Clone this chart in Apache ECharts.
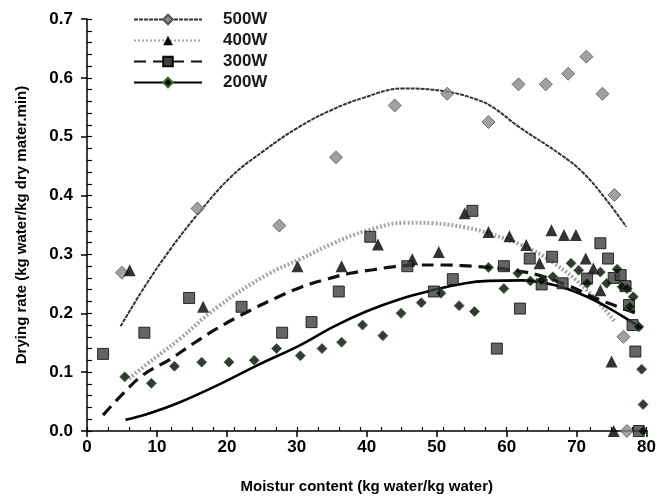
<!DOCTYPE html>
<html><head><meta charset="utf-8">
<script src="https://cdn.jsdelivr.net/npm/echarts@6/dist/echarts.min.js"></script>
<style>html,body{margin:0;padding:0;background:#fff}#c{width:659px;height:499px}</style>
</head><body><div id="c"></div>
<script>
// ---- data ----
const seriesNames = ['500W', '400W', '300W', '200W'];
const xTickValues = [0, 10, 20, 30, 40, 50, 60, 70, 80];
const yTickLabels = ['0.0', '0.1', '0.2', '0.3', '0.4', '0.5', '0.6', '0.7'];

// measured points
const pts500 = [[5.0,0.269],[15.8,0.378],[27.5,0.349],[35.6,0.465],[44.0,0.553],[51.5,0.573],[57.4,0.525],[61.7,0.589],[65.6,0.589],[68.8,0.607],[71.4,0.636],[73.7,0.573],[75.4,0.401],[76.7,0.160],[77.2,0.0]];
const pts400 = [[6.1,0.273],[16.6,0.211],[30.1,0.280],[36.4,0.280],[41.6,0.317],[46.5,0.292],[50.3,0.304],[54.0,0.370],[57.4,0.338],[60.4,0.331],[62.8,0.316],[64.7,0.285],[66.4,0.341],[68.2,0.333],[69.9,0.333],[71.3,0.293],[72.4,0.276],[73.4,0.239],[75.0,0.118],[75.3,0.0]];
const pts300 = [[2.3,0.131],[8.2,0.167],[14.6,0.226],[22.1,0.211],[27.9,0.167],[32.1,0.185],[36.0,0.237],[40.5,0.330],[45.8,0.280],[49.6,0.237],[52.3,0.258],[55.1,0.374],[58.6,0.140],[59.6,0.280],[61.9,0.208],[63.3,0.293],[65.0,0.249],[66.5,0.296],[68.0,0.251],[71.5,0.259],[73.4,0.319],[74.5,0.293],[75.3,0.260],[76.3,0.265],[77.0,0.246],[77.5,0.214],[78.0,0.180],[78.4,0.135],[78.9,0.0]];
const pts200 = [[5.4,0.092],[9.2,0.081],[12.5,0.110],[16.4,0.117],[20.3,0.117],[23.9,0.120],[27.1,0.140],[30.5,0.128],[33.6,0.140],[36.4,0.151],[39.4,0.180],[42.3,0.162],[44.9,0.200],[47.8,0.218],[50.6,0.234],[53.2,0.213],[55.4,0.203],[57.4,0.278],[59.6,0.242],[61.6,0.268],[63.4,0.255],[65.0,0.256],[66.6,0.262],[69.2,0.285],[70.3,0.273],[71.5,0.251],[73.4,0.270],[74.3,0.251],[75.8,0.275],[76.5,0.245],[77.2,0.242],[77.6,0.211],[78.1,0.228],[78.9,0.177],[79.3,0.105],[79.5,0.045],[79.5,0.0]];

// fitted curves
const fit500 = [[4.8,0.178],[8.4,0.248],[12.0,0.310],[15.8,0.368],[20.6,0.432],[25.4,0.477],[30.1,0.515],[34.7,0.544],[39.5,0.566],[45.2,0.582],[51.3,0.577],[56.0,0.562],[58.3,0.548],[61.6,0.518],[67.8,0.469],[71.0,0.438],[74.3,0.392],[77.1,0.347]];
const fit400 = [[6.0,0.089],[8.4,0.112],[13.1,0.155],[18.7,0.211],[25.8,0.266],[30.5,0.292],[35.2,0.319],[39.9,0.340],[45.6,0.354],[49.4,0.353],[54.1,0.346],[57.4,0.336],[62.1,0.316],[66.8,0.285],[71.5,0.239],[75.4,0.187]];
const fit300 = [[2.3,0.027],[5.5,0.068],[8.1,0.096],[11.9,0.122],[15.0,0.147],[18.0,0.170],[21.1,0.191],[24.2,0.210],[27.0,0.226],[30.5,0.244],[34.3,0.258],[37.6,0.268],[40.9,0.274],[43.7,0.279],[47.5,0.282],[51.3,0.282],[53.6,0.281],[57.4,0.278],[59.8,0.275],[64.5,0.265],[69.2,0.245],[72.5,0.227],[74.8,0.216],[78.6,0.200]];
const fit200 = [[5.5,0.019],[8.4,0.028],[13.1,0.048],[18.7,0.078],[24.4,0.112],[30.5,0.146],[35.2,0.177],[39.9,0.203],[44.7,0.224],[49.4,0.239],[54.1,0.251],[57.4,0.255],[62.1,0.256],[66.8,0.248],[71.5,0.228],[76.3,0.197],[79.3,0.174]];

const FONT = '"Liberation Sans", Arial, sans-serif';

const marker = {
  '500W': {symbol: 'diamond', size: 13, itemStyle: {color: '#8a8a8a', borderColor: '#555555', borderWidth: 1}},
  '400W': {symbol: 'triangle', size: 12, itemStyle: {color: '#000000'}},
  '300W': {symbol: 'rect', size: 11, itemStyle: {color: '#3e3e3e', borderColor: '#0a0a0a', borderWidth: 1}},
  '200W': {symbol: 'diamond', size: 10, itemStyle: {color: '#050505', borderColor: '#2f6f2f', borderWidth: 1}}
};
const lineStyles = {
  '500W': {color: '#333333', width: 2, type: [4, 1]},
  '400W': {color: '#a5a5a5', width: 4, type: [2, 2]},
  '300W': {color: '#111111', width: 3.2, type: [12, 7]},
  '200W': {color: '#000000', width: 2.6, type: 'solid'}
};
const ptsBy = {'500W': pts500, '400W': pts400, '300W': pts300, '200W': pts200};
const fitBy = {'500W': fit500, '400W': fit400, '300W': fit300, '200W': fit200};

const series = [];
seriesNames.forEach(function (n) {
  series.push({
    name: n, type: 'line', data: fitBy[n], smooth: 0.4, showSymbol: false,
    symbol: marker[n].symbol, itemStyle: marker[n].itemStyle,
    lineStyle: lineStyles[n], z: 2, silent: true
  });
});
seriesNames.forEach(function (n) {
  series.push({
    name: n + ' data', type: 'scatter', data: ptsBy[n],
    symbol: marker[n].symbol, symbolSize: marker[n].size,
    itemStyle: marker[n].itemStyle, z: 3, silent: true
  });
});

const chart = echarts.init(document.getElementById('c'), null, {renderer: 'canvas'});
chart.setOption({
  animation: false,
  backgroundColor: '#ffffff',
  grid: {left: 87, right: 7, top: 19, bottom: 68},
  legend: {
    orient: 'vertical', left: 128, top: 6, itemWidth: 68, itemHeight: 12, itemGap: 4,
    data: seriesNames, selectedMode: false,
    textStyle: {fontFamily: FONT, fontWeight: 'bold', fontSize: 17, color: '#1a1a1a', padding: [0, 0, 0, 16]}
  },
  xAxis: [{
    type: 'value', min: xTickValues[0], max: xTickValues[xTickValues.length - 1], interval: 10,
    axisLine: {lineStyle: {color: '#000', width: 1.5}},
    axisTick: {length: 6, lineStyle: {color: '#000', width: 1.5}},
    axisLabel: {color: '#000', fontFamily: FONT, fontWeight: 'bold', fontSize: 17, margin: 8},
    splitLine: {show: false},
    name: 'Moistur content (kg water/kg water)', nameLocation: 'middle', nameGap: 48,
    nameTextStyle: {color: '#000', fontFamily: FONT, fontWeight: 'bold', fontSize: 15}
  }, {
    type: 'value', position: 'bottom', min: 0, max: 80, interval: 3,
    axisLine: {show: false}, axisLabel: {show: false}, splitLine: {show: false},
    axisTick: {inside: true, length: 4, lineStyle: {color: '#000', width: 1.2}}
  }],
  yAxis: [{
    type: 'value', min: 0, max: 0.7, interval: 0.1,
    axisLine: {show: true, lineStyle: {color: '#000', width: 1.5}},
    axisTick: {show: true, length: 6, lineStyle: {color: '#000', width: 1.5}},
    axisLabel: {color: '#000', fontFamily: FONT, fontWeight: 'bold', fontSize: 17, margin: 14,
      formatter: function (v) { return yTickLabels[Math.round(v * 10)]; }},
    splitLine: {show: false},
    name: 'Drying rate (kg water/kg dry mater.min)', nameLocation: 'middle', nameGap: 58,
    nameTextStyle: {color: '#000', fontFamily: FONT, fontWeight: 'bold', fontSize: 15}
  }, {
    type: 'value', position: 'left', min: 0, max: 0.7, interval: 0.02,
    axisLine: {show: false}, axisLabel: {show: false}, splitLine: {show: false},
    axisTick: {show: true, inside: true, length: 5, lineStyle: {color: '#000', width: 1.2}}
  }],
  series: series
});
</script>
</body></html>
